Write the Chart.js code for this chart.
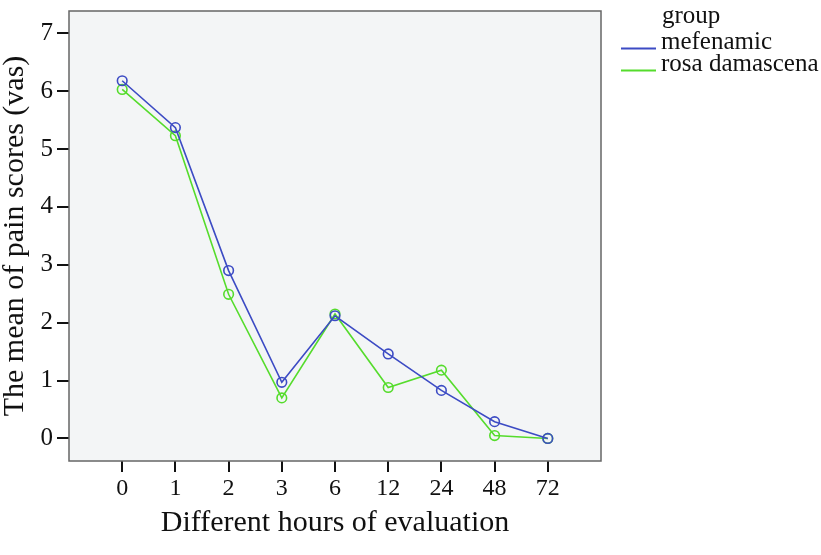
<!DOCTYPE html>
<html>
<head>
<meta charset="utf-8">
<script src="https://cdn.jsdelivr.net/npm/chart.js@4"></script>
<style>
  html, body { margin: 0; padding: 0; background: #fff; }
  #wrap { width: 821px; height: 555px; }
</style>
</head>
<body>
<div id="wrap"><canvas id="chart" width="821" height="555"></canvas></div>
<script>
// hours of evaluation (categories) and mean VAS pain scores per group
const hours = ['0', '1', '2', '3', '6', '12', '24', '48', '72'];
const mefenamic = [6.18, 5.37, 2.90, 0.97, 2.12, 1.46, 0.83, 0.29, 0.00];
const rosaDamascena = [6.03, 5.23, 2.49, 0.70, 2.15, 0.88, 1.18, 0.05, 0.00];
const yTicks = [0, 1, 2, 3, 4, 5, 6, 7];

const FONT = "'Liberation Serif', 'DejaVu Serif', serif";
const BLUE = '#3c4bc4';
const GREEN = '#55dc2c';

const toPoints = vals => vals.map((v, i) => ({ x: i, y: v }));

// grey plot background + frame
const frame = {
  id: 'frame',
  beforeDatasetsDraw(chart) {
    const { ctx, chartArea: a } = chart;
    ctx.save();
    ctx.fillStyle = '#f3f5f6';
    ctx.fillRect(a.left, a.top, a.right - a.left, a.bottom - a.top);
    ctx.restore();
  },
  afterDatasetsDraw(chart) {
    const { ctx, chartArea: a } = chart;
    ctx.save();
    ctx.strokeStyle = '#666';
    ctx.lineWidth = 1.5;
    ctx.strokeRect(a.left, a.top, a.right - a.left, a.bottom - a.top);
    ctx.restore();
  }
};

// SPSS style legend on the right
const sideLegend = {
  id: 'sideLegend',
  afterDraw(chart) {
    const ctx = chart.ctx;
    ctx.save();
    ctx.font = '25px ' + FONT;
    ctx.fillStyle = '#111';
    ctx.textBaseline = 'alphabetic';
    ctx.fillText('group', 662, 23);
    chart.data.datasets.forEach((ds, i) => {
      const y = 49 + i * 22;
      ctx.strokeStyle = ds.borderColor;
      ctx.lineWidth = 2;
      ctx.beginPath();
      ctx.moveTo(621, y - 0.5);
      ctx.lineTo(656, y - 0.5);
      ctx.stroke();
      ctx.fillText(ds.label, 661, y);
    });
    ctx.restore();
  }
};

new Chart(document.getElementById('chart'), {
  type: 'line',
  data: {
    datasets: [
      { label: 'mefenamic', data: toPoints(mefenamic), borderColor: BLUE },
      { label: 'rosa damascena', data: toPoints(rosaDamascena), borderColor: GREEN }
    ]
  },
  options: {
    responsive: false,
    animation: false,
    layout: { padding: { left: 0, top: 11, right: 220, bottom: 0 } },
    elements: {
      line: { borderWidth: 1.6, tension: 0 },
      point: { radius: 4.8, borderWidth: 1.6, backgroundColor: 'rgba(0,0,0,0)', hoverRadius: 4.8 }
    },
    plugins: { legend: { display: false }, tooltip: { enabled: false } },
    scales: {
      x: {
        type: 'linear',
        min: -1,
        max: 9,
        afterBuildTicks: s => { s.ticks = hours.map((h, i) => ({ value: i })); },
        afterFit: s => { s.height = 94; s.paddingLeft = 0; s.paddingRight = 0; },
        border: { display: false },
        grid: { drawOnChartArea: false, drawTicks: true, tickLength: 11, color: '#111', lineWidth: 2 },
        ticks: {
          callback: v => hours[v],
          font: { family: FONT, size: 24 },
          color: '#111',
          padding: 2,
          maxRotation: 0
        },
        title: {
          display: true,
          text: 'Different hours of evaluation',
          font: { family: FONT, size: 30, lineHeight: 1 },
          color: '#111',
          padding: { top: 0, bottom: 17 }
        }
      },
      y: {
        min: -0.39,
        max: 7.385,
        afterBuildTicks: s => { s.ticks = yTicks.map(v => ({ value: v })); },
        afterFit: s => { s.width = 69; s.paddingTop = 0; s.paddingBottom = 0; },
        border: { display: false },
        grid: { drawOnChartArea: false, drawTicks: true, tickLength: 12, color: '#111', lineWidth: 2 },
        ticks: {
          font: { family: FONT, size: 25 },
          color: '#111',
          padding: 4
        },
        title: {
          display: true,
          text: 'The mean of pain scores (vas)',
          font: { family: FONT, size: 30, lineHeight: 1 },
          color: '#111',
          padding: { top: 0, bottom: 0 }
        }
      }
    }
  },
  plugins: [frame, sideLegend]
});
</script>
</body>
</html>
